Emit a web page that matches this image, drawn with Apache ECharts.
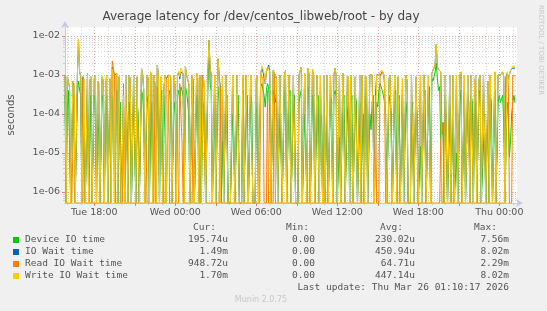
<!DOCTYPE html>
<html><head><meta charset="utf-8">
<script src="https://cdn.jsdelivr.net/npm/echarts@6/dist/echarts.min.js"></script>
<style>html,body{margin:0;padding:0;background:#f0f0f0;}#c{width:547px;height:311px;}</style>
</head><body><div id="c"></div>
<script>
// ---- data (seconds), one sample every 5 minutes starting at Tue 15:50 ----
const startHour = 15.83;
const stepHours = 1 / 12;
const seriesNames = ['Device IO time', 'IO Wait time', 'Read IO Wait time', 'Write IO Wait time'];
const seriesColors = ['#00cc00', '#0066b3', '#ff8000', '#ffcc00'];

const deviceIO = [
3e-4,0,1.3e-4,4e-4,2e-5,0,0,2e-4,1e-4,0,0,3e-4,7e-4,4e-4,3e-4,0,0,1e-4,0,0,
4e-4,0,1e-5,3e-4,0,0,3e-4,2e-4,0,1e-4,3e-5,0,0,3e-4,2e-4,0,1e-4,3e-4,0,0,
3e-4,0,2e-4,3e-4,0,2e-4,4e-4,0,1.5e-5,2e-4,0,0,1e-4,0,3e-4,1e-4,0,2e-4,6e-5,0,
0,3e-4,3e-4,0,2e-4,1e-4,0,0,4e-4,3e-4,1e-4,0,0,2e-4,3e-4,0,2.5e-5,2e-4,0,3e-4,
1e-4,0,5e-4,3e-4,0,2e-4,4e-4,0,4e-5,3e-4,0,0,3e-4,4e-4,1.5e-4,0,0,2e-4,1e-4,0,
3e-4,4e-4,2e-4,5e-4,4e-4,3e-4,0,5e-4,4e-4,2e-4,1e-4,0,0,3e-4,5e-4,0,0,3e-4,2e-4,0,
3e-4,0,0,2e-4,1.2e-4,0,0,4e-4,7.5e-3,6e-4,4e-4,0,0,3e-4,0,0,5e-4,2e-4,0,0,
2e-5,0,0,2e-4,3e-4,0,0,0,0,1e-4,2.5e-5,0,0,2e-4,3e-4,0,0,0,4e-4,0,
0,2e-4,3e-4,0,0,3e-4,2e-4,0,0,0,1e-4,2e-4,0,0,5e-4,6e-4,4e-4,3e-4,1.5e-4,4e-4,
6e-4,5e-4,1e-4,0,0,4e-4,3e-4,2e-4,4e-4,0,0,1e-4,1e-5,0,0,3e-4,5e-4,0,0,2e-4,
4e-4,0,0,2e-4,3e-4,0,0,0,2e-4,3e-4,4e-4,0,0,1e-4,1.5e-5,0,5e-4,3e-4,0,0,
3e-4,2e-4,0,0,1e-4,3e-4,0,1e-4,8e-5,0,2e-4,0,0,2e-4,0,0,3e-4,2e-4,0,3e-4,
4e-4,3e-4,0,0,2.5e-5,0,0,2e-4,3e-4,0,0,1e-4,2e-4,0,1e-4,3e-4,0,0,3e-4,2e-4,
0,0,2e-4,0,1e-5,1e-4,0,3e-4,4e-4,0,0,1e-4,4e-5,2e-4,3e-4,0,0,2e-4,1.5e-4,4e-4,
6e-4,5e-4,4e-4,3e-4,2e-4,1e-4,0,0,3e-4,2e-4,1e-4,0,0,3e-4,4e-4,0,2e-4,3e-4,0,0,
3e-4,0,0,2e-4,1e-4,0,0,0,5e-5,2e-4,0,0,3e-4,1e-4,0,0,1.5e-5,0,0,3e-4,
4e-4,0,0,3e-4,5e-4,0,8e-4,7e-4,9e-4,1.2e-3,2e-3,8e-4,4e-4,5e-4,5e-4,0,0,0,3e-4,1e-5,
0,0,1.5e-4,0,0,2e-4,0,0,1e-5,0,0,2e-4,4e-4,0,0,3e-4,0,0,3e-4,2e-4,
0,3e-4,2e-4,0,1e-4,2e-4,0,0,4e-4,3e-4,0,0,1.5e-5,1e-4,0,0,2e-4,0,3e-4,2e-4,
0,0,4e-4,0,0,2e-4,3e-4,2e-4,2e-4,3e-4,6e-5,0,0,2e-4,1e-4,8e-6,2e-5,1e-4,2e-4,3e-4,
1.96e-4];

const ioWait = [
1.0e-3,0,9e-4,1.0e-3,5e-4,0,0,7e-4,5e-4,0,0,1.0e-3,8.0e-3,1.2e-3,9e-4,0,9e-4,8e-4,0,0,
1.1e-3,0,7e-4,9e-4,0,0,8e-4,1.0e-3,0,7e-4,6e-4,0,0,9e-4,7e-4,0,5e-4,1.0e-3,0,0,
8e-4,0,1.6e-3,1.2e-3,1.0e-3,9e-4,1.1e-3,0,9e-4,1.0e-3,0,0,4e-4,0,1.0e-3,9e-4,0,1.0e-3,8e-4,0,
0,1.0e-3,1.1e-3,0,9e-4,1.0e-3,0,0,1.5e-3,1.0e-3,4e-4,0,2e-5,1.0e-3,8e-4,0,1.2e-3,9e-4,0,1.0e-3,
5.5e-4,0,1.8e-3,1.1e-3,0,9e-4,1.0e-3,0,5e-4,1.0e-3,8e-4,9e-4,1.0e-3,1.1e-3,9e-4,0,0,1.0e-3,4e-4,0,
1.0e-3,1.2e-3,8e-4,1.2e-3,1.3e-3,1.1e-3,0,1.7e-3,1.0e-3,9e-4,6e-4,0,0,1.0e-3,9e-4,0,0,1.1e-3,8e-4,0,
1.0e-3,0,1.0e-3,1.0e-3,4e-4,0,0,1.1e-3,7.8e-3,1.5e-3,1.0e-3,0,0,1.0e-3,0,0,2.6e-3,1.0e-3,5e-4,0,
9e-4,0,0,1.0e-3,1.0e-3,0,0,0,0,1.0e-3,1.0e-3,0,0,1.0e-3,9e-4,0,0,0,1.0e-3,0,
0,1.0e-3,9e-4,0,0,1.0e-3,1.0e-3,0,0,0,8e-4,1.0e-3,0,0,1.1e-3,1.5e-3,1.2e-3,1.1e-3,6e-4,1.2e-3,
1.5e-3,1.8e-3,1.2e-3,0,0,1.3e-3,1.3e-3,1.0e-3,8e-4,0,0,1.0e-3,1.1e-3,0,0,1.0e-3,1.3e-3,0,0,1.0e-3,
1.0e-3,0,0,1.0e-3,9e-4,0,0,0,1.0e-3,1.1e-3,1.6e-3,0,0,1.1e-3,1.0e-3,0,1.5e-3,1.0e-3,0,0,
1.4e-3,1.0e-3,0,0,1.0e-3,1.1e-3,0,1.0e-3,9e-4,0,1.0e-3,0,0,1.0e-3,0,0,1.0e-3,1.1e-3,0,1.0e-3,
1.5e-3,1.0e-3,0,0,1.0e-3,0,0,1.1e-3,1.0e-3,0,0,1.0e-3,8e-4,0,1.0e-3,1.1e-3,0,0,9e-4,1.0e-3,
0,0,1.0e-3,0,1.0e-3,1.0e-3,0,1.0e-3,8e-4,0,0,1.0e-3,1.0e-3,1.0e-3,1.0e-3,0,3e-4,1.0e-3,9e-4,1.0e-3,
1.1e-3,1.05e-3,1.25e-3,1.1e-3,9e-4,1.0e-3,0,0,8e-4,1.0e-3,9e-4,0,0,1.0e-3,1.0e-3,0,9e-4,1.0e-3,0,0,
8e-4,0,0,1.0e-3,7e-4,0,0,0,1.0e-3,1.0e-3,0,0,9e-4,1.0e-3,0,0,1.0e-3,0,0,1.0e-3,
9e-4,0,0,1.0e-3,1.0e-3,0,1.1e-3,1.2e-3,1.5e-3,2.0e-3,6.0e-3,1.6e-3,1.4e-3,1.3e-3,1.2e-3,3e-5,6e-5,0,1.0e-3,1.0e-3,
0,0,1.0e-3,0,0,1.0e-3,0,0,1.0e-3,0,0,1.0e-3,1.2e-3,0,0,1.0e-3,0,0,1.0e-3,9e-4,
0,1.0e-3,9e-4,0,6e-4,1.0e-3,0,0,8e-4,1.0e-3,0,0,1.0e-3,1.0e-3,0,0,7e-4,0,1.0e-3,1.0e-3,
0,0,1.2e-3,0,0,1.0e-3,1.1e-3,1.0e-3,1.0e-3,1.2e-3,9e-4,0,9e-4,1.1e-3,8e-4,1.0e-3,1.3e-3,1.4e-3,1.5e-3,1.5e-3,
1.49e-3];

const readWait = [
0,0,0,0,0,0,0,0,3e-4,0,0,0,0,0,0,0,9e-4,0,0,0,
0,0,0,0,0,0,0,0,0,0,0,0,0,0,0,0,0,0,0,0,
0,0,2.3e-3,1.5e-3,1.0e-3,0,0,0,0,0,0,0,6e-4,0,0,0,0,0,0,0,
0,0,0,0,0,0,0,0,0,0,0,0,2e-5,0,0,0,0,0,0,0,
5e-4,0,0,0,0,0,0,0,0,0,8e-4,9e-4,1.0e-3,0,0,0,0,0,0,0,
0,0,6e-4,1e-4,2e-5,0,0,0,0,0,0,0,0,0,8e-4,0,0,0,0,0,
0,0,1.0e-3,1.0e-3,1.6e-5,0,0,0,0,0,0,0,0,0,0,0,0,0,5e-4,0,
0,0,0,0,0,0,0,0,0,0,0,0,0,0,0,0,0,0,0,0,
0,0,0,0,0,0,0,0,0,0,0,0,0,0,1.0e-3,1.1e-3,8e-4,0,0,0,
4e-4,0,0,0,0,0,1.2e-3,0,0,0,0,0,0,0,0,0,0,0,0,0,
0,0,0,0,0,0,0,0,0,0,0,0,0,0,0,0,0,0,0,0,
0,0,0,0,0,0,0,0,0,0,0,0,0,0,0,0,0,0,0,0,
0,0,0,0,0,0,0,0,0,0,0,0,0,0,0,0,0,0,0,0,
0,0,0,0,0,0,0,0,0,0,0,0,0,0,0,0,3e-4,0,0,0,
9e-4,1.0e-3,1.2e-3,1.0e-3,6e-4,0,0,0,0,0,0,0,0,0,0,0,0,0,0,0,
0,0,0,0,0,0,0,0,0,0,0,0,0,0,0,0,0,0,0,0,
0,0,0,0,0,0,0,0,0,0,0,0,0,0,2e-5,3e-5,6e-5,0,0,0,
0,0,0,0,0,0,0,0,0,0,0,0,0,0,0,0,0,0,0,0,
0,0,0,0,0,0,0,0,0,0,0,0,0,0,0,0,0,0,0,0,
0,0,0,0,0,0,0,0,0,0,0,0,9e-4,1.0e-3,1.0e-3,0,0,0,9.5e-4,9e-4,
9.49e-4];

const writeWait = [
1.0e-3,0,9e-4,1.0e-3,5e-4,0,0,7e-4,6e-4,0,0,1.0e-3,8.0e-3,1.2e-3,9e-4,0,0,8e-4,0,0,
1.1e-3,0,7e-4,9e-4,0,0,8e-4,1.0e-3,0,7e-4,6e-4,0,0,9e-4,7e-4,0,5e-4,1.0e-3,0,0,
8e-4,0,1.4e-3,1.1e-3,0,9e-4,1.1e-3,0,9e-4,1.0e-3,0,0,3e-4,0,1.0e-3,9e-4,0,1.0e-3,8e-4,0,
0,1.0e-3,1.1e-3,0,9e-4,1.0e-3,0,0,1.5e-3,1.0e-3,4e-4,0,0,1.0e-3,8e-4,0,1.2e-3,9e-4,0,1.0e-3,
6e-4,0,1.8e-3,1.1e-3,0,9e-4,1.0e-3,0,5e-4,1.0e-3,0,0,1.0e-3,1.1e-3,9e-4,0,0,1.0e-3,4e-4,0,
1.0e-3,1.2e-3,9e-4,1.5e-3,1.3e-3,1.1e-3,0,1.7e-3,1.0e-3,9e-4,6e-4,0,0,1.0e-3,9e-4,0,0,1.1e-3,8e-4,0,
1.0e-3,0,0,9e-4,6e-4,0,0,1.1e-3,7.8e-3,1.5e-3,1.0e-3,0,0,1.0e-3,0,0,2.6e-3,1.0e-3,0,0,
9e-4,0,0,1.0e-3,1.0e-3,0,0,0,0,1.0e-3,1.0e-3,0,0,1.0e-3,9e-4,0,0,0,1.0e-3,0,
0,1.0e-3,9e-4,0,0,1.0e-3,1.0e-3,0,0,0,8e-4,1.0e-3,0,0,1.1e-3,1.7e-3,1.4e-3,1.1e-3,6e-4,1.2e-3,
1.7e-3,1.8e-3,1.2e-3,0,0,1.3e-3,1.4e-3,1.0e-3,8e-4,0,0,1.0e-3,1.1e-3,0,0,1.0e-3,1.3e-3,0,0,1.0e-3,
1.0e-3,0,0,1.0e-3,9e-4,0,0,0,1.0e-3,1.1e-3,1.6e-3,0,0,1.1e-3,1.0e-3,0,1.5e-3,1.0e-3,0,0,
1.4e-3,1.0e-3,0,0,1.0e-3,1.1e-3,0,1.0e-3,9e-4,0,1.0e-3,0,0,1.0e-3,0,0,1.0e-3,1.1e-3,0,1.0e-3,
1.5e-3,1.0e-3,0,0,1.0e-3,0,0,1.1e-3,1.0e-3,0,0,1.0e-3,8e-4,0,1.0e-3,1.1e-3,0,0,9e-4,1.0e-3,
0,0,1.0e-3,0,1.0e-3,1.0e-3,0,1.0e-3,8e-4,0,0,1.0e-3,1.0e-3,1.0e-3,1.0e-3,0,0,1.0e-3,9e-4,1.0e-3,
1.2e-3,1.1e-3,1.3e-3,1.2e-3,9e-4,1.0e-3,0,0,8e-4,1.0e-3,9e-4,0,0,1.0e-3,1.0e-3,0,9e-4,1.0e-3,0,0,
8e-4,0,0,1.0e-3,7e-4,0,0,0,1.0e-3,1.0e-3,0,0,9e-4,1.0e-3,0,0,1.0e-3,0,0,1.0e-3,
9e-4,0,0,1.0e-3,1.0e-3,0,1.1e-3,1.2e-3,1.5e-3,2.0e-3,6.0e-3,1.6e-3,1.4e-3,1.3e-3,1.2e-3,0,0,0,1.0e-3,1.0e-3,
0,0,1.0e-3,0,0,1.0e-3,0,0,1.0e-3,0,0,1.0e-3,1.2e-3,0,0,1.0e-3,0,0,1.0e-3,9e-4,
0,1.0e-3,9e-4,0,6e-4,1.0e-3,0,0,8e-4,1.0e-3,0,0,1.0e-3,1.0e-3,0,0,7e-4,0,1.0e-3,1.0e-3,
0,0,1.2e-3,0,0,1.0e-3,1.1e-3,1.0e-3,1.0e-3,1.2e-3,9e-4,0,0,1.2e-3,6e-4,1.0e-3,1.3e-3,1.4e-3,1.7e-3,1.6e-3,
1.70e-3];

// legend statistics as printed
const statCur = ['195.74u', '1.49m', '948.72u', '1.70m'];
const statMin = ['0.00', '0.00', '0.00', '0.00'];
const statAvg = ['230.02u', '450.94u', '64.71u', '447.14u'];
const statMax = ['7.56m', '8.02m', '2.29m', '8.02m'];

// axis ticks
const xLabelValues = [18, 24, 30, 36, 42, 48];
const xLabelTexts = ['Tue 18:00', 'Wed 00:00', 'Wed 06:00', 'Wed 12:00', 'Wed 18:00', 'Thu 00:00'];
const xMajorValues = [18, 21, 24, 27, 30, 33, 36, 39, 42, 45, 48];
const xMinorValues = [16,17,18,19,20,21,22,23,24,25,26,27,28,29,30,31,32,33,34,35,36,37,38,39,40,41,42,43,44,45,46,47,48,49];
const yDecades = [1e-6, 1e-5, 1e-4, 1e-3, 1e-2];
const yDecadeLabels = ['1e-06', '1e-05', '1e-04', '1e-03', '1e-02'];
const yMinorValues = [6e-7,7e-7,8e-7,9e-7,2e-6,3e-6,4e-6,5e-6,6e-6,7e-6,8e-6,9e-6,2e-5,3e-5,4e-5,5e-5,6e-5,7e-5,8e-5,9e-5,
  2e-4,3e-4,4e-4,5e-4,6e-4,7e-4,8e-4,9e-4,2e-3,3e-3,4e-3,5e-3,6e-3,7e-3,8e-3,9e-3];

// ---- chart ----
const X_MIN = 15.83, X_MAX = 49.31, Y_MIN = 5.22e-7, Y_MAX = 1.70e-2;
const seriesValues = [deviceIO, ioWait, readWait, writeWait];
const chart = echarts.init(document.getElementById('c'), null, {renderer: 'canvas'});
const labelColor = '#555';
const gray = '#d6d6d6', red = '#eaa8a8', axisColor = '#c8c8e6';

function toData(arr) {
  return arr.map((v, i) => [startHour + i * stepHours, v > 0 ? v : Y_MIN]);
}

const GL = 65, GT = 27, GR = 30, GB = 108;
const legendRows = [240, 252, 264, 276];
const graphics = [];
const mono = '"DejaVu Sans Mono", monospace';
graphics.push({type: 'text', x: 261, y: 17, style: {text: 'Average latency for /dev/centos_libweb/root - by day', font: '12px "DejaVu Sans"', fill: '#444', align: 'center', verticalAlign: 'middle'}});
graphics.push({type: 'text', x: 11, y: 115, rotation: Math.PI / 2, style: {text: 'seconds', font: '10px "DejaVu Sans"', fill: labelColor, align: 'center', verticalAlign: 'middle'}});
graphics.push({type: 'text', x: 541, y: 5, rotation: -Math.PI / 2, style: {text: 'RRDTOOL / TOBI OETIKER', font: '7px "DejaVu Sans"', fill: '#c8c8c8', align: 'left', verticalAlign: 'middle'}});
const hdr = [['Cur:', 216], ['Min:', 309], ['Avg:', 403], ['Max:', 497]];
hdr.forEach(h => graphics.push({type: 'text', x: h[1], y: 228, style: {text: h[0], font: '9.5px ' + mono, fill: labelColor, align: 'right', verticalAlign: 'middle'}}));
seriesNames.forEach((n, k) => {
  const y = legendRows[k];
  graphics.push({type: 'rect', shape: {x: 13, y: y - 3, width: 6, height: 6}, style: {fill: seriesColors[k]}});
  graphics.push({type: 'text', x: 25, y: y, style: {text: n, font: '9.5px ' + mono, fill: labelColor, align: 'left', verticalAlign: 'middle'}});
  [[statCur, 228], [statMin, 315], [statAvg, 415], [statMax, 509]].forEach(c => {
    graphics.push({type: 'text', x: c[1], y: y, style: {text: c[0][k], font: '9.5px ' + mono, fill: labelColor, align: 'right', verticalAlign: 'middle'}});
  });
});
graphics.push({type: 'text', x: 509, y: 288, style: {text: 'Last update: Thu Mar 26 01:10:17 2026', font: '9.5px ' + mono, fill: labelColor, align: 'right', verticalAlign: 'middle'}});
graphics.push({type: 'text', x: 261, y: 300, style: {text: 'Munin 2.0.75', font: '8px "DejaVu Sans"', fill: '#c8c8c8', align: 'center', verticalAlign: 'middle'}});

const xBase = {type: 'value', min: X_MIN, max: X_MAX, position: 'bottom'};
chart.setOption({
  animation: false,
  backgroundColor: '#f0f0f0',
  grid: {left: GL, top: GT, right: GR, bottom: GB, show: true, backgroundColor: '#ffffff', borderWidth: 0},
  xAxis: [
    Object.assign({}, xBase, {
      axisLine: {show: true, lineStyle: {color: axisColor, width: 1}, symbol: ['none', 'arrow'], symbolSize: [6, 7], symbolOffset: [0, 6]},
      axisTick: {show: false},
      splitLine: {show: false},
      axisLabel: {customValues: xLabelValues, formatter: v => xLabelTexts[xLabelValues.indexOf(Math.round(v))] || '', color: labelColor, fontSize: 9.5, fontFamily: 'DejaVu Sans', margin: 5}
    }),
    Object.assign({}, xBase, {
      axisLine: {show: false}, axisLabel: {show: false},
      axisTick: {show: true, customValues: xMinorValues, length: 2, inside: false, lineStyle: {color: '#cccccc'}},
      splitLine: {show: true, lineStyle: {color: gray, type: [1, 2], width: 1}}
    }),
    Object.assign({}, xBase, {
      axisLine: {show: false}, axisLabel: {show: false},
      axisTick: {show: true, customValues: xMajorValues, length: 3, lineStyle: {color: '#e08080'}},
      splitLine: {show: true, lineStyle: {color: red, type: [1, 2], width: 1}}
    })
  ],
  yAxis: [
    {type: 'log', min: Y_MIN, max: Y_MAX, position: 'left',
      axisLine: {show: true, lineStyle: {color: axisColor}, symbol: ['none', 'arrow'], symbolSize: [6, 7], symbolOffset: [0, 6]},
      axisTick: {show: true, customValues: yDecades, length: 3, lineStyle: {color: '#e08080'}},
      axisLabel: {customValues: yDecades, formatter: v => { const i = yDecades.findIndex(d => Math.abs(Math.log10(d) - Math.log10(v)) < 0.01); return i >= 0 ? yDecadeLabels[i] : ''; }, color: labelColor, fontSize: 9.5, fontFamily: 'DejaVu Sans', margin: 5},
      splitLine: {show: true, lineStyle: {color: red, type: [1, 2], width: 1}}
    },
    {type: 'log', min: Y_MIN, max: Y_MAX, position: 'left',
      axisLine: {show: false}, axisLabel: {show: false},
      axisTick: {show: true, customValues: yMinorValues, length: 2, lineStyle: {color: '#cccccc'}},
      splitLine: {show: true, lineStyle: {color: gray, type: [1, 2], width: 1}}
    }
  ],
  series: seriesNames.map((n, k) => ({
    name: n, type: 'line', xAxisIndex: 0, yAxisIndex: 0,
    data: toData(seriesValues[k]), showSymbol: false, symbol: 'none', clip: true,
    lineStyle: {color: seriesColors[k], width: 1}, z: 3 + k
  })),
  graphic: graphics
});
</script></body></html>
